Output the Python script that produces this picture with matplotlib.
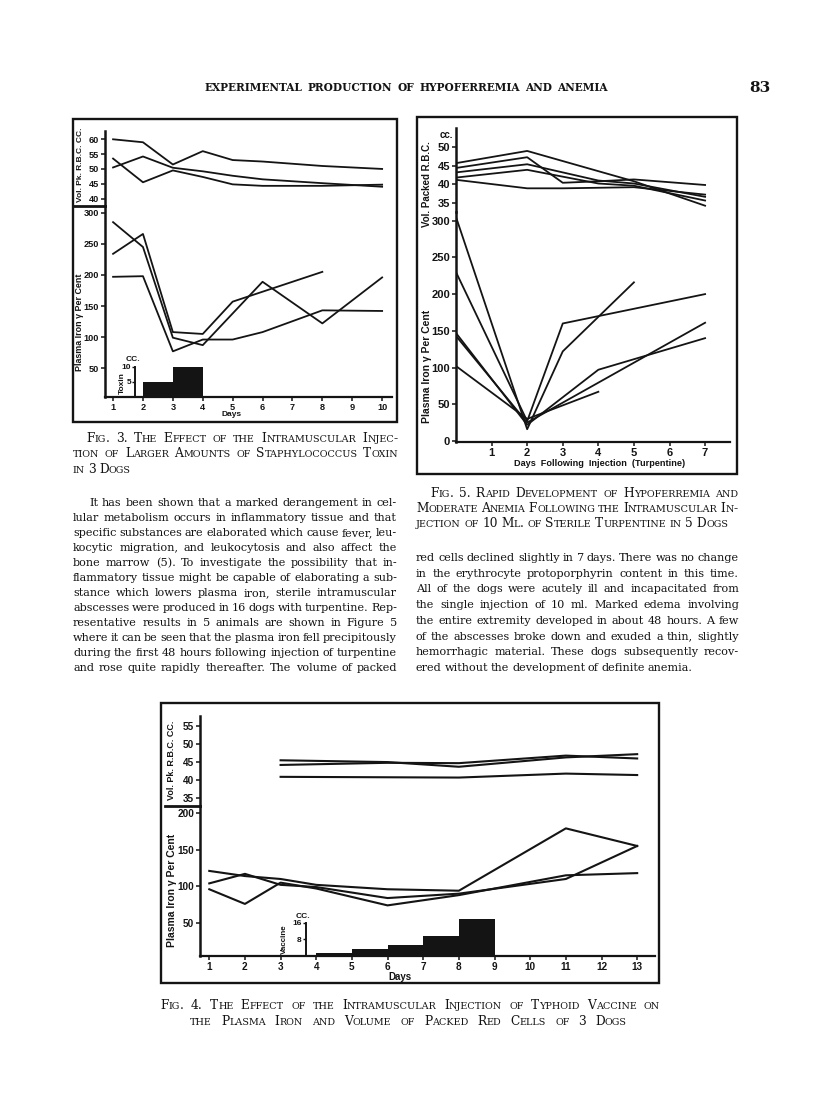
import matplotlib
matplotlib.use('Agg')
import matplotlib.pyplot as plt
from matplotlib.font_manager import FontProperties
from matplotlib.lines import Line2D
from matplotlib.patches import Rectangle

W, H = 816, 1105
SERIF = 'DejaVu Serif'
INK = '#141414'

plt.rcParams['font.family'] = ['Liberation Sans', 'DejaVu Sans']
plt.rcParams['font.weight'] = 'bold'
plt.rcParams['text.color'] = INK
plt.rcParams['axes.edgecolor'] = INK
plt.rcParams['xtick.color'] = INK
plt.rcParams['ytick.color'] = INK

# ---- Fig. 3: staphylococcus toxin, 3 dogs ----
f3_vol_days = [[1, 2, 3, 4, 5, 6, 8, 10],
               [1, 2, 3, 4, 5, 6, 8, 10],
               [1, 2, 3, 4, 5, 6, 8, 10]]
f3_vol = [[60, 59, 51.5, 56, 53, 52.5, 51, 50],
          [50.5, 54.2, 50.4, 49.2, 47.7, 46.5, 45.2, 44.0],
          [53.5, 45.5, 49.5, 47.3, 44.8, 44.3, 44.3, 44.7]]
f3_iron_days = [[1, 2, 3, 4, 6, 8, 10],
                [1, 2, 3, 4, 5, 8],
                [1, 2, 3, 4, 5, 6, 8, 10]]
f3_iron = [[285, 245, 99, 87, 189, 122, 196],
           [234, 266, 108, 105, 157, 205],
           [197, 198, 77, 96, 96, 108, 143, 142]]
f3_toxin_days = [2, 3]
f3_toxin_cc = [5, 10]

# ---- Fig. 5: turpentine, 5 dogs ----
f5_vol_days = [[0, 2, 5, 7],
               [0, 2, 3, 4, 5, 7],
               [0, 2, 4, 5, 7],
               [0, 2, 4, 5, 7],
               [0, 2, 3, 5, 7]]
f5_vol = [[45.7, 49.0, 40.8, 34.2],
          [44.4, 47.3, 40.4, 40.8, 41.3, 39.8],
          [43.2, 45.4, 41.0, 40.2, 36.6],
          [41.8, 43.9, 40.2, 39.6, 35.6],
          [41.2, 38.9, 38.9, 39.2, 37.2]]
f5_iron_days = [[0, 2, 3, 5],
                [0, 2, 3, 7],
                [0, 2, 4, 7],
                [0, 2, 7],
                [0, 2, 4]]
f5_iron = [[305, 16, 122, 216],
           [230, 27, 160, 200],
           [147, 22, 97, 140],
           [143, 25, 161],
           [102, 30, 67]]

# ---- Fig. 4: typhoid vaccine, 3 dogs ----
f4_vol_days = [[3, 6, 8, 11, 13],
               [3, 6, 8, 11, 13],
               [3, 8, 11, 13]]
f4_vol = [[45.5, 45.0, 43.7, 46.3, 47.2],
          [44.2, 44.8, 44.7, 46.8, 46.0],
          [40.9, 40.7, 41.8, 41.4]]
f4_iron_days = [[1, 2, 3, 4, 6, 8, 11, 13],
                [1, 2, 3, 4, 6, 8, 11, 13],
                [1, 2, 3, 4, 6, 8, 11, 13]]
f4_iron = [[121, 114, 110, 102, 96, 94, 179, 155],
           [104, 117, 102, 99, 84, 90, 110, 155],
           [96, 76, 105, 97, 74, 88, 115, 118]]
f4_vaccine_days = [4, 5, 6, 7, 8]
f4_vaccine_cc = [1.5, 3.2, 5.4, 9.8, 17.6]

# ---- page text ----
header = "EXPERIMENTAL PRODUCTION OF HYPOFERREMIA AND ANEMIA"
cap3 = ["Fig. 3.  The Effect of the Intramuscular Injec-",
        "tion of Larger Amounts of Staphylococcus Toxin",
        "in 3 Dogs"]
cap5 = ["Fig. 5.  Rapid Development of Hypoferremia and",
        "Moderate Anemia Following the Intramuscular In-",
        "jection of 10 Ml. of Sterile Turpentine in 5 Dogs"]
cap4 = ["Fig. 4.  The Effect of the Intramuscular Injection of Typhoid Vaccine on",
        "the Plasma Iron and Volume of Packed Red Cells of 3 Dogs"]
left_par = [
    "It has been shown that a marked derangement in cel-",
    "lular metabolism occurs in inflammatory tissue and that",
    "specific substances are elaborated which cause fever, leu-",
    "kocytic migration, and leukocytosis and also affect the",
    "bone marrow (5).  To investigate the possibility that in-",
    "flammatory tissue might be capable of elaborating a sub-",
    "stance which lowers plasma iron, sterile intramuscular",
    "abscesses were produced in 16 dogs with turpentine.  Rep-",
    "resentative results in 5 animals are shown in Figure 5",
    "where it can be seen that the plasma iron fell precipitously",
    "during the first 48 hours following injection of turpentine",
    "and rose quite rapidly thereafter.  The volume of packed"]
right_par = [
    "red cells declined slightly in 7 days.  There was no change",
    "in the erythrocyte protoporphyrin content in this time.",
    "All of the dogs were acutely ill and incapacitated from",
    "the single injection of 10 ml.  Marked edema involving",
    "the entire extremity developed in about 48 hours.  A few",
    "of the abscesses broke down and exuded a thin, slightly",
    "hemorrhagic material.  These dogs subsequently recov-",
    "ered without the development of definite anemia."]

fig = plt.figure(figsize=(W / 100, H / 100), dpi=100)
fig.patch.set_facecolor('white')
renderer = fig.canvas.get_renderer()


def fx(x):
    return x / W


def fy(y):
    return 1 - y / H


def px_axes(x0, y0, x1, y1):
    return fig.add_axes([fx(x0), fy(y1), (x1 - x0) / W, (y1 - y0) / H])


def text_w(s, size, weight):
    prop = FontProperties(family=SERIF, size=size, weight=weight)
    return renderer.get_text_width_height_descent(s, prop, ismath=False)[0]


def caps_runs(word, size):
    runs = []
    for ch in word:
        r = (ch.upper(), size * 0.78) if ch.islower() else (ch, size)
        if runs and runs[-1][1] == r[1]:
            runs[-1] = (runs[-1][0] + r[0], r[1])
        else:
            runs.append(r)
    return runs


def measure(line, size, caps, weight):
    pieces = []
    for wd in line.split():
        runs = caps_runs(wd, size) if caps else [(wd, size)]
        pieces.append([(s, sz, text_w(s, sz, weight)) for s, sz in runs])
    total = sum(r[2] for p in pieces for r in p)
    return pieces, total


def fit_size(lines, size, caps=False, weight='normal', min_gap=0.22):
    # one size for a whole block: shrink until every line fits its width
    while size > 5:
        ok = True
        for x0, x1, line in lines:
            pieces, total = measure(line, size, caps, weight)
            if total + min_gap * size * 100 / 72 * (len(pieces) - 1) > x1 - x0:
                ok = False
                break
        if ok:
            break
        size *= 0.985
    return size


def set_line(x0, x1, y, line, size, caps=False, justify=True, weight='normal'):
    pieces, total = measure(line, size, caps, weight)
    space = 0.25 * size * 100 / 72
    gap = (x1 - x0 - total) / (len(pieces) - 1) if (justify and len(pieces) > 1) else space
    x = x0
    for p in pieces:
        for s, sz, w in p:
            fig.text(fx(x), fy(y), s, fontsize=sz, family=SERIF, weight=weight,
                     ha='left', va='baseline', color=INK)
            x += w
        x += gap


def frame(x0, y0, x1, y1):
    fig.patches.append(Rectangle((fx(x0), fy(y1)), (x1 - x0) / W, (y1 - y0) / H,
                                 transform=fig.transFigure, fill=False,
                                 lw=1.7, ec=INK))


def style(ax, size, bottom=True):
    ax.patch.set_visible(False)
    ax.spines['top'].set_visible(False)
    ax.spines['right'].set_visible(False)
    ax.spines['bottom'].set_visible(bottom)
    ax.spines['left'].set_linewidth(1.8)
    ax.spines['bottom'].set_linewidth(1.6)
    ax.tick_params(direction='out', length=3, width=1.1, labelsize=size, pad=1.2)
    if not bottom:
        ax.set_xticks([])


def dose_axis(ax, xpos, top, ticks, ymax, days, cc, size):
    t = ax.twinx()
    t.set_ylim(0, ymax)
    t.bar(days, cc, width=1, align='edge', color=INK, lw=0)
    for s in ['right', 'top', 'bottom']:
        t.spines[s].set_visible(False)
    t.spines['left'].set_visible(True)
    t.spines['left'].set_position(('data', xpos))
    t.spines['left'].set_bounds(0, top)
    t.spines['left'].set_linewidth(1.4)
    t.yaxis.tick_left()
    t.set_yticks(ticks)
    t.tick_params(direction='out', length=2.5, width=1, labelsize=size, pad=0.5)
    return t


# ---------------- header ----------------
hs = fit_size([(204, 608, header)], 7.6, weight='bold')
set_line(204, 608, 91, header, hs, weight='bold')
fig.text(fx(760), fy(92), "83", fontsize=11, family=SERIF, weight='bold',
         ha='center', va='baseline', color=INK)

# ---------------- Fig. 3 ----------------
frame(73, 119, 397, 422)
fig.add_artist(Line2D([fx(73), fx(105)], [fy(206), fy(206)], lw=2, color=INK))

a3u = px_axes(105, 130.7, 392, 206)
for d, v in zip(f3_vol_days, f3_vol):
    a3u.plot(d, v, color=INK, lw=1.3)
a3u.set_xlim(0.73, 10.33)
a3u.set_ylim(37.5, 62.9)
a3u.set_yticks([40, 45, 50, 55, 60])
style(a3u, 6.6, bottom=False)

a3l = px_axes(105, 206, 392, 397)
for d, v in zip(f3_iron_days, f3_iron):
    a3l.plot(d, v, color=INK, lw=1.3)
a3l.set_xlim(0.73, 10.33)
a3l.set_ylim(3.5, 311)
a3l.set_yticks([50, 100, 150, 200, 250, 300])
a3l.set_xticks(range(1, 11))
style(a3l, 6.6)

t3 = dose_axis(a3l, 1.75, 10, [5, 10], 63, f3_toxin_days, f3_toxin_cc, 6)
t3.text(1.68, 11.2, "CC.", fontsize=6, ha='center', va='bottom')
t3.text(1.3, 4.5, "Toxin", fontsize=6, rotation=90, ha='center', va='center')

fig.text(fx(80), fy(165), "Vol. Pk. R.B.C. CC.", fontsize=6, rotation=90,
         ha='center', va='center')
fig.text(fx(80), fy(322), "Plasma Iron \u03b3 Per Cent", fontsize=6.4, rotation=90,
         ha='center', va='center')
fig.text(fx(232), fy(415), "Days", fontsize=6, ha='center', va='center')

# ---------------- Fig. 5 ----------------
frame(417, 117, 737, 474)

a5u = px_axes(456, 128, 730, 212)
for d, v in zip(f5_vol_days, f5_vol):
    a5u.plot(d, v, color=INK, lw=1.3)
a5u.set_xlim(0, 7.7)
a5u.set_ylim(32.5, 55.2)
a5u.set_yticks([35, 40, 45, 50])
style(a5u, 8, bottom=False)

a5l = px_axes(456, 212, 730, 442)
for d, v in zip(f5_iron_days, f5_iron):
    a5l.plot(d, v, color=INK, lw=1.3)
a5l.set_xlim(0, 7.7)
a5l.set_ylim(-1.4, 311.8)
a5l.set_yticks(range(0, 301, 50))
a5l.set_xticks(range(1, 8))
style(a5l, 8)

fig.text(fx(446), fy(135), "cc.", fontsize=7, ha='center', va='center')
fig.text(fx(427), fy(184), "Vol. Packed R.B.C.", fontsize=7, rotation=90,
         ha='center', va='center')
fig.text(fx(427), fy(366), "Plasma Iron \u03b3 Per Cent", fontsize=7.5, rotation=90,
         ha='center', va='center')
fig.text(fx(600), fy(463), "Days  Following  Injection  (Turpentine)", fontsize=6.6,
         ha='center', va='center')

# ---------------- Fig. 4 ----------------
frame(161, 703, 659, 983)
fig.add_artist(Line2D([fx(165), fx(200)], [fy(806), fy(806)], lw=2, color=INK))

a4u = px_axes(200, 716, 655, 806)
for d, v in zip(f4_vol_days, f4_vol):
    a4u.plot(d, v, color=INK, lw=1.5)
a4u.set_xlim(0.74, 13.5)
a4u.set_ylim(32.8, 57.8)
a4u.set_yticks([35, 40, 45, 50, 55])
style(a4u, 7.2, bottom=False)

a4l = px_axes(200, 806, 655, 956)
for d, v in zip(f4_iron_days, f4_iron):
    a4l.plot(d, v, color=INK, lw=1.5)
a4l.set_xlim(0.74, 13.5)
a4l.set_ylim(5, 209.5)
a4l.set_yticks([50, 100, 150, 200])
a4l.set_xticks(range(1, 14))
style(a4l, 7.2)

t4 = dose_axis(a4l, 3.7, 16, [8, 16], 72, f4_vaccine_days, f4_vaccine_cc, 6)
t4.text(3.62, 17.5, "CC.", fontsize=6, ha='center', va='bottom')
t4.text(3.1, 8, "Vaccine", fontsize=5.8, rotation=90, ha='center', va='center')

fig.text(fx(172), fy(760), "Vol. Pk. R.B.C. CC.", fontsize=6.5, rotation=90,
         ha='center', va='center')
fig.text(fx(172), fy(890), "Plasma Iron \u03b3 Per Cent", fontsize=7.5, rotation=90,
         ha='center', va='center')
fig.text(fx(400), fy(977), "Days", fontsize=7, ha='center', va='center')

# ---------------- captions and body text ----------------
cap_blocks = [(86, 398, cap3[0]), (73, 398, cap3[1]),
              (430, 738, cap5[0]), (416, 738, cap5[1]), (416, 728, cap5[2]),
              (160, 660, cap4[0]), (190, 627, cap4[1])]
cs = fit_size(cap_blocks, 9.4, caps=True)
set_line(86, 398, 442, cap3[0], cs, caps=True)
set_line(73, 398, 457, cap3[1], cs, caps=True)
set_line(73, 398, 473, cap3[2], cs, caps=True, justify=False)

set_line(430, 738, 497, cap5[0], cs, caps=True)
set_line(416, 738, 512, cap5[1], cs, caps=True)
set_line(416, 728, 527, cap5[2], cs, caps=True)

set_line(160, 660, 1009, cap4[0], cs, caps=True)
set_line(190, 627, 1025, cap4[1], cs, caps=True)

body = [((89 if i == 0 else 73), 397, ln) for i, ln in enumerate(left_par)]
body += [(416, 739, ln) for ln in right_par]
bs = fit_size(body, 9.0, min_gap=0.2)

for i, line in enumerate(left_par):
    x0 = 89 if i == 0 else 73
    set_line(x0, 397, 506 + 15.0 * i, line, bs)

for i, line in enumerate(right_par):
    last = i == len(right_par) - 1
    set_line(416, 739, 561 + 15.7 * i, line, bs, justify=not last)

fig.savefig('out.png', dpi=100, facecolor='white')
